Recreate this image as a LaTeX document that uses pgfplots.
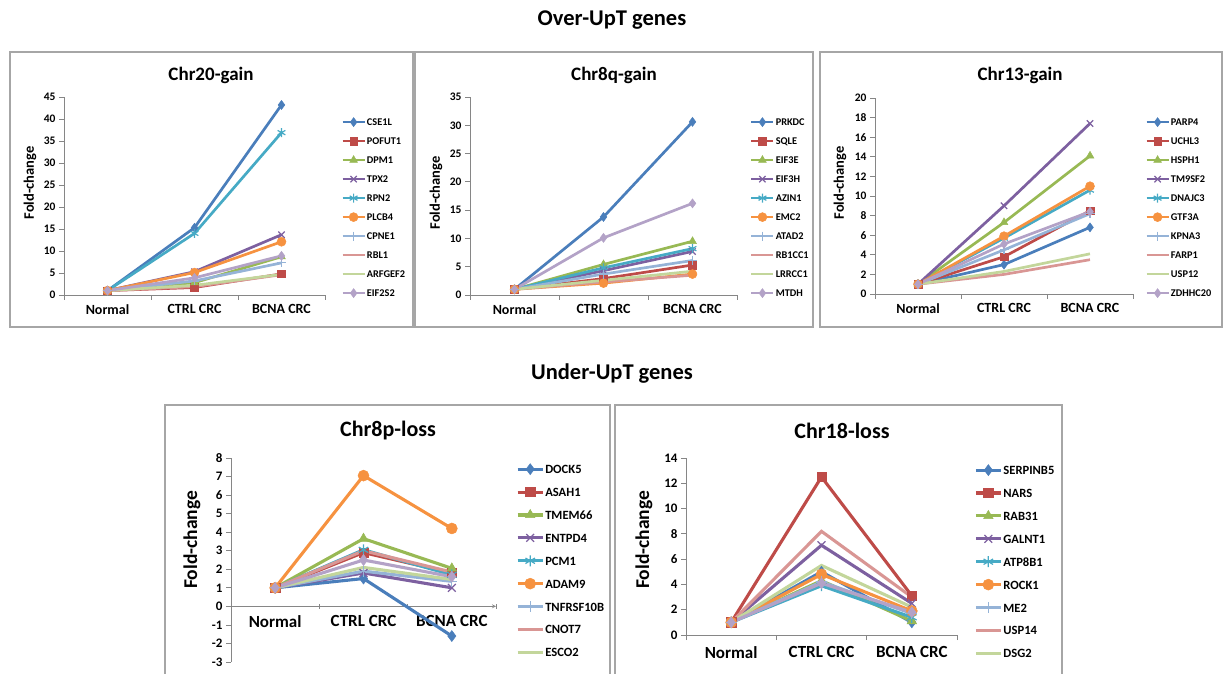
\documentclass[border=0pt]{standalone}
\usepackage{fontspec}
\setmainfont{Carlito}
\usepackage{pgfplots}
\pgfplotsset{compat=1.18}
\definecolor{c1}{HTML}{4A7EBB}
\definecolor{c2}{HTML}{BE4B48}
\definecolor{c3}{HTML}{98B954}
\definecolor{c4}{HTML}{7D60A0}
\definecolor{c5}{HTML}{46AAC5}
\definecolor{c6}{HTML}{F69240}
\definecolor{c7}{HTML}{95B3D7}
\definecolor{c8}{HTML}{D99694}
\definecolor{c9}{HTML}{C3D69B}
\definecolor{c10}{HTML}{B3A2C7}
\definecolor{axgray}{HTML}{868686}
\definecolor{framegray}{HTML}{A6A6A6}
\pgfplotsset{
  s1/.style={draw=c1, mark=diamond*, mark options={solid, fill=c1, line width=0.5pt}},
  s2/.style={draw=c2, mark=square*, mark options={solid, fill=c2, line width=0.5pt, scale=0.85}},
  s3/.style={draw=c3, mark=triangle*, mark options={solid, fill=c3, line width=0.5pt}},
  s4/.style={draw=c4, mark=x, mark options={solid, line width=1.2pt}},
  s5/.style={draw=c5, mark=asterisk, mark options={solid, line width=1.2pt}},
  s6/.style={draw=c6, mark=*, mark options={solid, fill=c6, line width=0.5pt}},
  s7/.style={draw=c7, mark=+, mark options={solid, line width=1.2pt}},
  s8/.style={draw=c8, mark=none},
  s9/.style={draw=c9, mark=none},
  s10/.style={draw=c10, mark=diamond*, mark options={solid, fill=c10, line width=0.5pt}},
  panel/.style={
    scale only axis, anchor=south west, clip=false,
    xmin=-0.5, xmax=2.5,
    axis y line=left, axis x line=bottom,
    axis line style={-, draw=axgray, line width=0.8pt},
    xtick={0,1,2}, xticklabels={Normal,CTRL CRC,BCNA CRC},
    minor xtick={-0.5,0.5,1.5,2.5},
    major x tick style={draw=none},
    minor x tick style={draw=axgray, line width=0.8pt},
    y tick style={draw=axgray, line width=0.8pt},
    tick align=outside,
    major tick length=5pt, minor tick length=5pt,
    /pgf/number format/assume math mode=true,
    hide obscured x ticks=false, hide obscured y ticks=false,
    legend cell align=left,
  },
  toppanel/.style={
    panel,
    every axis plot/.append style={line width=2.7pt, mark size=4.5pt},
    ticklabel style={font=\fontsize{11.5}{12}\selectfont\bfseries},
    xticklabel style={font=\fontsize{14}{14}\selectfont\bfseries, yshift=-1pt},
    legend image code/.code={\draw[mark repeat=2,mark phase=2,##1] plot coordinates {(0pt,0pt) (11pt,0pt) (22pt,0pt)};},
    legend style={anchor=north west, draw=none, fill=none,
      font=\fontsize{10.3}{10.3}\selectfont\bfseries,
      nodes={inner sep=1pt, text height=7pt, text depth=0pt},
      row sep=10pt},
  },
  botpanel/.style={
    panel,
    every axis plot/.append style={line width=3.1pt, mark size=5.5pt},
    ticklabel style={font=\fontsize{13}{13}\selectfont\bfseries},
    xticklabel style={font=\fontsize{17}{17}\selectfont\bfseries, yshift=-3pt},
    legend image code/.code={\draw[mark repeat=2,mark phase=2,##1] plot coordinates {(0pt,0pt) (12.5pt,0pt) (25pt,0pt)};},
    legend style={anchor=north west, draw=none, fill=none,
      font=\fontsize{12.6}{12.6}\selectfont\bfseries,
      nodes={inner sep=1pt, text height=9pt, text depth=0pt},
      row sep=11.9pt},
  },
}
\newcommand{\ser}[4]{\addplot[#1] coordinates {(0,1) (1,#2) (2,#3)}; \addlegendentry{#4}}
\begin{document}
\begin{tikzpicture}[x=1pt,y=1pt]
\useasboundingbox (0,0) rectangle (1224,673);
% frames
\draw[framegray, line width=1.2pt] (10,346) rectangle (413,621);
\draw[framegray, line width=1.2pt] (415,346) rectangle (813,621);
\draw[framegray, line width=1.2pt] (820,346) rectangle (1222,621);
\draw[framegray, line width=1.2pt] (165,-2) -- (165,268) -- (610,268) -- (610,-2);
\draw[framegray, line width=1.2pt] (615,-2) -- (615,268) -- (1062,268) -- (1062,-2);
% section titles
\node[font=\fontsize{22.5}{22.5}\selectfont\bfseries] at (612,653) {Over-UpT genes};
\node[font=\fontsize{22.5}{22.5}\selectfont\bfseries] at (612,299) {Under-UpT genes};
% panel titles
\node[font=\fontsize{19}{19}\selectfont\bfseries] at (211,598) {Chr20-gain};
\node[font=\fontsize{19}{19}\selectfont\bfseries] at (614,598) {Chr8q-gain};
\node[font=\fontsize{19}{19}\selectfont\bfseries] at (1020,598) {Chr13-gain};
\node[font=\fontsize{22}{22}\selectfont\bfseries] at (388,242) {Chr8p-loss};
\node[font=\fontsize{22}{22}\selectfont\bfseries] at (842,242) {Chr18-loss};
% y labels
\node[rotate=90, font=\fontsize{14.5}{14.5}\selectfont\bfseries] at (30,490) {Fold-change};
\node[rotate=90, font=\fontsize{14.5}{14.5}\selectfont\bfseries] at (436,480) {Fold-change};
\node[rotate=90, font=\fontsize{14.5}{14.5}\selectfont\bfseries] at (840,490) {Fold-change};
\node[rotate=90, font=\fontsize{19.5}{19.5}\selectfont\bfseries] at (192,133) {Fold-change};
\node[rotate=90, font=\fontsize{19.5}{19.5}\selectfont\bfseries] at (644,133) {Fold-change};

% Panel 1: Chr20-gain
\begin{axis}[toppanel, at={(64pt,378pt)}, width=261pt, height=198pt,
  ymin=0, ymax=45, ytick={0,5,...,45},
  legend style={at={(1.05,0.907)}}]
\ser{s1}{15.3}{43.2}{CSE1L}
\ser{s2}{1.7}{4.8}{POFUT1}
\ser{s3}{2.8}{8.7}{DPM1}
\ser{s4}{5.3}{13.7}{TPX2}
\ser{s5}{14.0}{36.9}{RPN2}
\ser{s6}{5.1}{12.1}{PLCB4}
\ser{s7}{3.2}{7.3}{CPNE1}
\ser{s8}{1.9}{4.6}{RBL1}
\ser{s9}{2.2}{4.7}{ARFGEF2}
\ser{s10}{3.9}{8.9}{EIF2S2}
\end{axis}

% Panel 2: Chr8q-gain
\begin{axis}[toppanel, at={(470pt,378pt)}, width=267pt, height=198pt,
  ymin=0, ymax=35, ytick={0,5,...,35},
  legend style={at={(1.037,0.907)}}]
\ser{s1}{13.8}{30.6}{PRKDC}
\ser{s2}{2.9}{5.3}{SQLE}
\ser{s3}{5.4}{9.5}{EIF3E}
\ser{s4}{4.3}{7.7}{EIF3H}
\ser{s5}{4.8}{8.2}{AZIN1}
\ser{s6}{2.1}{3.7}{EMC2}
\ser{s7}{3.7}{6.1}{ATAD2}
\ser{s8}{2.3}{3.5}{RB1CC1}
\ser{s9}{2.6}{4.2}{LRRCC1}
\ser{s10}{10.1}{16.2}{MTDH}
\end{axis}

% Panel 3: Chr13-gain
\begin{axis}[toppanel, at={(875pt,379pt)}, width=258pt, height=196pt,
  ymin=0, ymax=20, ytick={0,2,...,20},
  legend style={at={(1.035,0.911)}}]
\ser{s1}{3.0}{6.8}{PARP4}
\ser{s2}{3.8}{8.5}{UCHL3}
\ser{s3}{7.3}{14.1}{HSPH1}
\ser{s4}{9.0}{17.4}{TM9SF2}
\ser{s5}{5.7}{10.6}{DNAJC3}
\ser{s6}{5.9}{11.0}{GTF3A}
\ser{s7}{4.5}{8.2}{KPNA3}
\ser{s8}{2.0}{3.5}{FARP1}
\ser{s9}{2.3}{4.1}{USP12}
\ser{s10}{5.1}{8.4}{ZDHHC20}
\end{axis}

% Panel 4: Chr8p-loss
\begin{axis}[botpanel, axis x line=middle, at={(231pt,11pt)}, width=265pt, height=204pt,
  ymin=-3, ymax=8, ytick={-3,-2,...,8},
  legend style={at={(1.064,0.983)}}]
\ser{s1}{1.5}{-1.6}{DOCK5}
\ser{s2}{2.9}{1.8}{ASAH1}
\ser{s3}{3.65}{2.05}{TMEM66}
\ser{s4}{1.8}{1.0}{ENTPD4}
\ser{s5}{3.05}{1.7}{PCM1}
\ser{s6}{7.05}{4.2}{ADAM9}
\ser{s7}{1.9}{1.35}{TNFRSF10B}
\ser{s8}{3.0}{1.85}{CNOT7}
\ser{s9}{2.1}{1.45}{ESCO2}
\addplot[s10, forget plot] coordinates {(0,1) (1,2.5) (2,1.6)};
\end{axis}

% Panel 5: Chr18-loss
\begin{axis}[botpanel, at={(686pt,38pt)}, width=271pt, height=177pt,
  ymin=0, ymax=14, ytick={0,2,...,14},
  legend style={at={(1.052,0.975)}}]
\ser{s1}{5.0}{1.0}{SERPINB5}
\ser{s2}{12.5}{3.1}{NARS}
\ser{s3}{4.3}{1.1}{RAB31}
\ser{s4}{7.1}{2.5}{GALNT1}
\ser{s5}{3.9}{1.4}{ATP8B1}
\ser{s6}{4.8}{1.9}{ROCK1}
\ser{s7}{4.2}{1.7}{ME2}
\ser{s8}{8.2}{3.0}{USP14}
\ser{s9}{5.5}{2.2}{DSG2}
\addplot[s10, forget plot] coordinates {(0,1) (1,4.1) (2,1.8)};
\end{axis}
\end{tikzpicture}
\end{document}
